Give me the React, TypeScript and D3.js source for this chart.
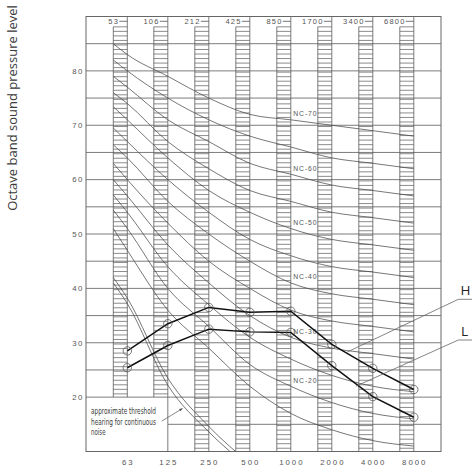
import React from 'react';
import * as d3 from 'd3';

// ---------- data ----------
const bands = [63, 125, 250, 500, 1000, 2000, 4000, 8000];
const bandLabels = ['63', '125', '250', '500', '1000', '2000', '4000', '8000'];
const topLabels = ['53', '106', '212', '425', '850', '1700', '3400', '6800'];
const yTickValues = [20, 30, 40, 50, 60, 70, 80];
const gridValues = [15, 20, 25, 30, 35, 40, 45, 50, 55, 60, 65, 70, 75, 80, 85];

// NC curves: first value at the left edge of the 63 Hz column, then 63..8000 Hz
const nc70 = [85, 83, 79, 75, 72, 71, 70, 69, 68];
const nc65 = [82, 80, 75, 71, 68, 66, 64, 63, 62];
const nc60 = [79, 77, 71, 67, 63, 61, 59, 58, 57];
const nc55 = [76, 74, 67, 62, 58, 56, 54, 53, 52];
const nc50 = [73.4, 71, 64, 58, 54, 51, 49, 48, 47];
const nc45 = [69.5, 67, 60, 54, 49, 46, 44, 43, 42];
const nc40 = [66.4, 64, 56, 50, 45, 41, 39, 38, 37];
const nc35 = [63, 60, 52, 45, 40, 36, 34, 33, 32];
const nc30 = [60, 57, 48, 41, 35, 31, 29, 28, 27];
const nc25 = [57.2, 54, 44, 37, 31, 27, 24, 22, 21];
const nc20 = [54.4, 51, 40, 33, 26, 22, 19, 17, 16];
const nc15 = [51, 47, 36, 29, 22, 17, 14, 12, 11];
const ncCurves = [nc70, nc65, nc60, nc55, nc50, nc45, nc40, nc35, nc30, nc25, nc20, nc15];
const ncNames = [70, 65, 60, 55, 50, 45, 40, 35, 30, 25, 20, 15];
const ncLabelled = [70, 60, 50, 40, 30, 20];

// threshold of hearing (two lines): left column edge, 63, 125, 250, 500 Hz
const thresholdOuter = [42, 38.2, 23.5, 14.6, 7.8];
const thresholdInner = [41, 37.2, 22.2, 13.6, 7.0];

// measured series
const seriesH = [28.5, 33.5, 36.5, 35.6, 35.8, 29.7, 25.3, 21.4];
const seriesL = [25.4, 29.5, 32.5, 32.0, 31.9, 25.8, 20.1, 16.3];

// ---------- layout ----------
const W = 472;
const HGT = 471;
const left = 86;
const right = 441;
const top = 16.5;
const bottom = 451.5;
const COL = 14;
const HATCH_TOP = 88.1;

const y = d3.scaleLinear().domain([10, 90]).range([bottom, top]);
const x = d3.scaleLog().base(2).domain([63, 8000]).range([127.3, 413.8]);

const ncX = [x(63) - COL, ...bands.map((b) => x(b))];
const thX = [x(63) - COL, x(63), x(125), x(250), x(500)];

const digitFont = "'Liberation Sans', Arial, sans-serif";
const gridColor = '#5a5a5a';

export default function App() {
  const ncLine = d3
    .line<number>()
    .x((_, i) => ncX[i])
    .y((d) => y(d))
    .curve(d3.curveMonotoneX);
  const thLine = d3
    .line<number>()
    .x((_, i) => thX[i])
    .y((d) => y(d))
    .curve(d3.curveMonotoneX);
  const dataLine = d3
    .line<number>()
    .x((_, i) => x(bands[i]))
    .y((d) => y(d));

  const hatchValues = d3.range(0, 96).map((k) => HATCH_TOP - (k * 5) / 6).filter((v) => v > 10.1);

  const hL = { x1: 458.3, y1: 299.3, x2: x(2600), y2: y(28.3) };
  const lL = { x1: 458.3, y1: 340, x2: x(3000), y2: y(22.0) };

  return (
    <svg
      width={W}
      height={HGT}
      style={{ position: 'absolute', left: 0, top: 0, background: '#fff' }}
    >
      <defs>
        <clipPath id="plotClip">
          <rect x={left} y={top} width={right - left} height={bottom - top} />
        </clipPath>
        <marker id="arr" viewBox="0 0 10 10" refX="9" refY="5" markerWidth="5" markerHeight="5" orient="auto">
          <path d="M0,1 L10,5 L0,9 z" fill="#555" />
        </marker>
      </defs>

      {/* y-axis title */}
      <text
        transform={`translate(17,108) rotate(-90)`}
        textAnchor="middle"
        fontFamily="'Open Sans', sans-serif"
        fontSize={13}
        fill="#3a3a3a"
      >
        Octave band sound pressure level
      </text>

      {/* horizontal grid */}
      {gridValues.map((v) => (
        <line
          key={'g' + v}
          x1={v < 20 ? x(125) : left}
          x2={right}
          y1={y(v)}
          y2={y(v)}
          stroke={gridColor}
          strokeWidth={0.8}
        />
      ))}

      {/* hatched columns */}
      {bands.map((b, i) => {
        const xr = x(b);
        const xl = xr - COL;
        const stop = i < 2 ? 20 : 10;
        return (
          <g key={'c' + b}>
            {hatchValues
              .filter((v) => v > stop + 0.01)
              .map((v) => (
                <line key={v} x1={xl} x2={xr} y1={y(v)} y2={y(v)} stroke={gridColor} strokeWidth={0.7} />
              ))}
            <line x1={xl} x2={xl} y1={y(HATCH_TOP)} y2={y(stop)} stroke={gridColor} strokeWidth={0.8} />
            <line
              x1={xr}
              x2={xr}
              y1={top}
              y2={i === 0 ? y(20) : bottom}
              stroke={gridColor}
              strokeWidth={0.8}
            />
            {/* top label with dash */}
            <text
              x={xr - 8}
              y={top + 7.8}
              textAnchor="end"
              fontFamily={digitFont}
              fontSize={7.5}
              letterSpacing={1.3}
              fill="#555"
            >
              {topLabels[i]}
            </text>
            <line x1={xr - 8} x2={xr} y1={top + 4.8} y2={top + 4.8} stroke="#555" strokeWidth={0.8} />
            {/* bottom label */}
            <text
              x={xr + 1}
              y={bottom + 13}
              textAnchor="middle"
              fontFamily={digitFont}
              fontSize={7.8}
              letterSpacing={2}
              fill="#555"
            >
              {bandLabels[i]}
            </text>
          </g>
        );
      })}

      {/* frame */}
      <rect x={left} y={top} width={right - left} height={bottom - top} fill="none" stroke="#666" strokeWidth={1} />

      {/* y tick labels */}
      {yTickValues.map((v) => (
        <text
          key={'t' + v}
          x={84}
          y={y(v) + 2.8}
          textAnchor="end"
          fontFamily={digitFont}
          fontSize={7.8}
          letterSpacing={1.6}
          fill="#555"
        >
          {v}
        </text>
      ))}

      {/* NC curves */}
      <g clipPath="url(#plotClip)">
        {ncCurves.map((c, i) => (
          <path key={'nc' + i} d={ncLine(c) || ''} fill="none" stroke="#4a4a4a" strokeWidth={0.75} />
        ))}
        <path d={thLine(thresholdOuter) || ''} fill="none" stroke="#4a4a4a" strokeWidth={0.75} />
        <path d={thLine(thresholdInner) || ''} fill="none" stroke="#4a4a4a" strokeWidth={0.75} />
      </g>

      {/* NC labels */}
      {ncNames.map((n, i) =>
        ncLabelled.includes(n) ? (
          <text
            key={'ncl' + n}
            x={x(1000) + 2.5}
            y={y(ncCurves[i][5]) - 3.5}
            fontFamily={digitFont}
            fontSize={6.8}
            letterSpacing={0.9}
            fill="#555"
          >
            {`NC-${n}`}
          </text>
        ) : null
      )}

      {/* annotation */}
      <g fontFamily="'Liberation Sans Narrow', 'DejaVu Sans Condensed', sans-serif" fontSize={8.6} fill="#3a3a3a">
        <text x={left + 5} y={y(20) + 16.5} textLength={65} lengthAdjust="spacingAndGlyphs">
          approximate threshold
        </text>
        <text x={left + 5} y={y(20) + 27.5} textLength={65} lengthAdjust="spacingAndGlyphs">
          hearing for continuous
        </text>
        <text x={left + 5} y={y(20) + 38} textLength={14.5} lengthAdjust="spacingAndGlyphs">
          noise
        </text>
      </g>
      <line
        x1={x(113)}
        y1={y(15.6)}
        x2={x(160)}
        y2={y(17.9)}
        stroke="#555"
        strokeWidth={0.7}
        markerEnd="url(#arr)"
      />

      {/* measured series */}
      {[seriesH, seriesL].map((s, k) => (
        <g key={'s' + k}>
          <path d={dataLine(s) || ''} fill="none" stroke="#111" strokeWidth={1.5} />
          {s.map((v, i) => (
            <circle key={i} cx={x(bands[i])} cy={y(v)} r={4.2} fill="none" stroke="#555" strokeWidth={0.8} />
          ))}
        </g>
      ))}

      {/* leaders and H / L labels */}
      <g stroke="#666" strokeWidth={0.8} fill="none">
        <polyline points={`${W},${hL.y1} ${hL.x1},${hL.y1} ${hL.x2},${hL.y2}`} />
        <polyline points={`${W},${lL.y1} ${lL.x1},${lL.y1} ${lL.x2},${lL.y2}`} />
      </g>
      <text x={460.5} y={295} fontFamily="'Open Sans', sans-serif" fontSize={13.5} fill="#222">
        H
      </text>
      <text x={461} y={335.5} fontFamily="'Open Sans', sans-serif" fontSize={13.5} fill="#222">
        L
      </text>
    </svg>
  );
}
